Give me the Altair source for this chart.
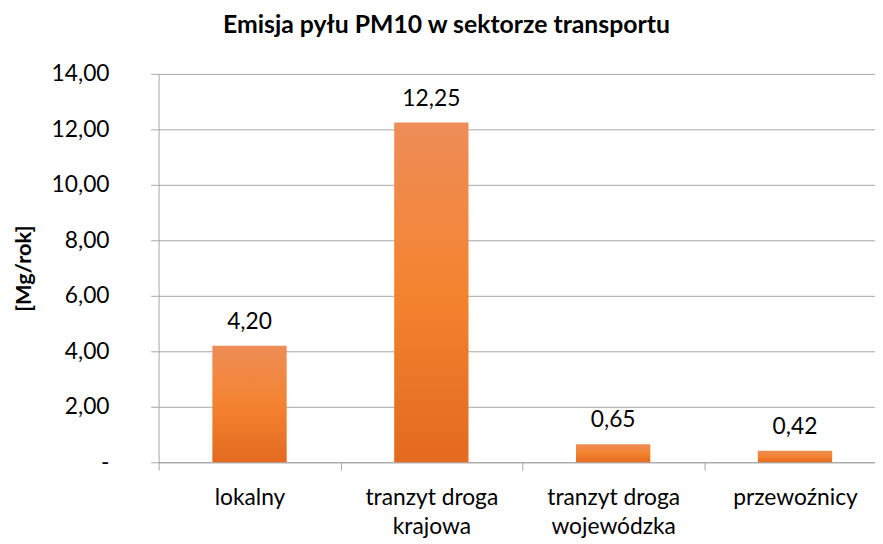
import altair as alt
import pandas as pd

categories = ["lokalny", "tranzyt droga\nkrajowa", "tranzyt droga\nwojewódzka", "przewoźnicy"]
values = [4.20, 12.25, 0.65, 0.42]
y_ticks = [0, 2, 4, 6, 8, 10, 12, 14]

df = pd.DataFrame({"kategoria": categories, "emisja": values})

FONT = "Lato"
GREY = "#A6A6A6"

x_enc = alt.X(
    "kategoria:N",
    sort=categories,
    scale=alt.Scale(range=[0, 734], paddingInner=0, paddingOuter=0),
    axis=alt.Axis(
        title=None,
        labelExpr="split(datum.label, '\\n')",
        labelFont=FONT,
        labelFontSize=23,
        labelColor="#000000",
        labelLineHeight=29,
        labelPadding=17,
        labelAngle=0,
        tickBand="extent",
        ticks=True,
        tickSize=8,
        tickColor=GREY,
        domainColor=GREY,
        grid=False,
    ),
)

y_enc = alt.Y(
    "emisja:Q",
    scale=alt.Scale(domain=[0, 14], nice=False),
    axis=alt.Axis(
        values=y_ticks,
        labelExpr="datum.value == 0 ? '-\u00a0\u00a0' : replace(format(datum.value, '.2f'), '.', ',')",
        labelFont=FONT,
        labelFontSize=23,
        labelColor="#000000",
        labelPadding=42,
        tickSize=8,
        tickColor=GREY,
        domainColor=GREY,
        grid=True,
        gridColor=GREY,
        title="[Mg/rok]",
        titleFont=FONT,
        titleFontSize=22,
        titleFontWeight="bold",
        titleColor="#000000",
        titleAngle=270,
        titleX=-136,
        titleY=196,
        titleAlign="center",
        titleBaseline="middle",
    ),
)

base = alt.Chart(df).encode(x=x_enc, y=y_enc)

bars = base.mark_bar(
    size=75,
    color=alt.Gradient(
        gradient="linear",
        stops=[
            alt.GradientStop(color="#EE8D58", offset=0),
            alt.GradientStop(color="#F4832F", offset=0.5),
            alt.GradientStop(color="#E36A1F", offset=1),
        ],
        x1=0, x2=0, y1=0, y2=1,
    ),
)

labels = base.transform_calculate(
    etykieta="replace(format(datum.emisja, '.2f'), '.', ',')"
).mark_text(
    baseline="alphabetic", dy=-17, font=FONT, fontSize=23, color="#000000"
).encode(text="etykieta:N")

chart = (
    alt.layer(bars, labels)
    .properties(
        width=723,
        height=392,
        autosize=alt.AutoSizeParams(type="none"),
        padding={"left": 152, "right": 0, "top": 64, "bottom": 80},
        title=alt.TitleParams(
            "Emisja pyłu PM10 w sektorze transportu",
            font=FONT,
            fontSize=25,
            fontWeight="bold",
            color="#000000",
            anchor="middle",
            dx=-71,
            offset=25,
        ),
    )
    .configure_view(stroke=None)
)

chart.save("out.html", embed_options={"renderer": "svg", "actions": False})
